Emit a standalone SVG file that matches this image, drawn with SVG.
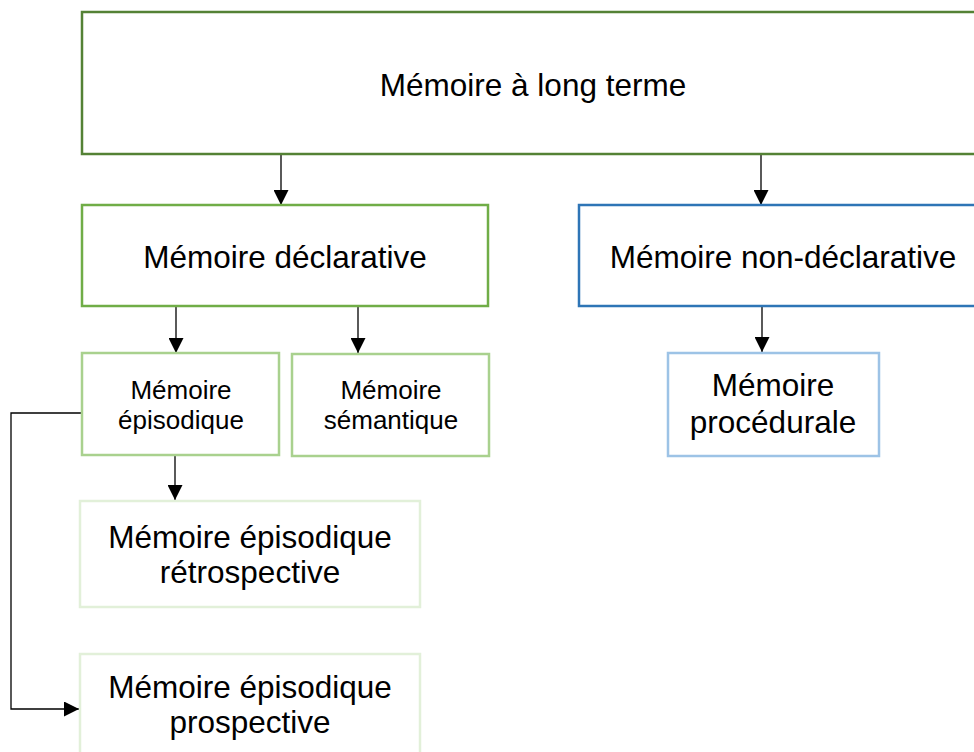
<svg xmlns="http://www.w3.org/2000/svg" width="974" height="752" viewBox="0 0 974 752">
<defs>
<marker id="arr" markerWidth="15" markerHeight="15" refX="15" refY="7.5" orient="auto" markerUnits="userSpaceOnUse">
<path d="M0,0 L15,7.5 L0,15 Z" fill="#000"/>
</marker>
<style>
text{font-family:"Liberation Sans",Arial,sans-serif;fill:#000;text-anchor:middle}
.big{font-size:31.5px}
.small{font-size:26px}
.box{fill:#fff;stroke-width:2.5}
.con{stroke:#000;stroke-width:1.3;fill:none;marker-end:url(#arr)}
</style>
</defs>
<rect width="974" height="752" fill="#fff"/>
<g id="connectors">
<line class="con" x1="281" y1="154" x2="281" y2="205"/>
<line class="con" x1="761" y1="154" x2="761" y2="205"/>
<line class="con" x1="176" y1="306" x2="176" y2="353"/>
<line class="con" x1="358" y1="306" x2="358" y2="353"/>
<line class="con" x1="762" y1="306" x2="762" y2="352"/>
<line class="con" x1="175" y1="455" x2="175" y2="500"/>
<polyline class="con" points="81,413 11,413 11,709 79,709"/>
</g>
<g id="n-long">
<rect class="box" x="82" y="12" width="904" height="142" stroke="#548235"/>
<text class="big" x="533" y="96">Mémoire à long terme</text>
</g>
<g id="n-decl">
<rect class="box" x="82" y="205" width="406" height="101" stroke="#70ad47"/>
<text class="big" x="285" y="268">Mémoire déclarative</text>
</g>
<g id="n-nondecl">
<rect class="box" x="579" y="205" width="406" height="101" stroke="#2e75b6"/>
<text class="big" x="783" y="268">Mémoire non-déclarative</text>
</g>
<g id="n-epi">
<rect class="box" x="82" y="353" width="197" height="102" stroke="#a9d18e"/>
<text class="small" x="181" y="399">Mémoire</text>
<text class="small" x="181" y="429">épisodique</text>
</g>
<g id="n-sem">
<rect class="box" x="292" y="354" width="197" height="102" stroke="#a9d18e"/>
<text class="small" x="391" y="399">Mémoire</text>
<text class="small" x="391" y="429">sémantique</text>
</g>
<g id="n-proc">
<rect class="box" x="668" y="353" width="211" height="103" stroke="#9dc3e6"/>
<text class="big" x="773" y="396">Mémoire</text>
<text class="big" x="773" y="433">procédurale</text>
</g>
<g id="n-retro">
<rect class="box" x="80" y="501" width="340" height="106" stroke="#e2f0d9"/>
<text class="big" x="250" y="548">Mémoire épisodique</text>
<text class="big" x="250" y="583">rétrospective</text>
</g>
<g id="n-pros">
<rect class="box" x="80" y="654" width="340" height="106" stroke="#e2f0d9"/>
<text class="big" x="250" y="698">Mémoire épisodique</text>
<text class="big" x="250" y="733">prospective</text>
</g>
</svg>
